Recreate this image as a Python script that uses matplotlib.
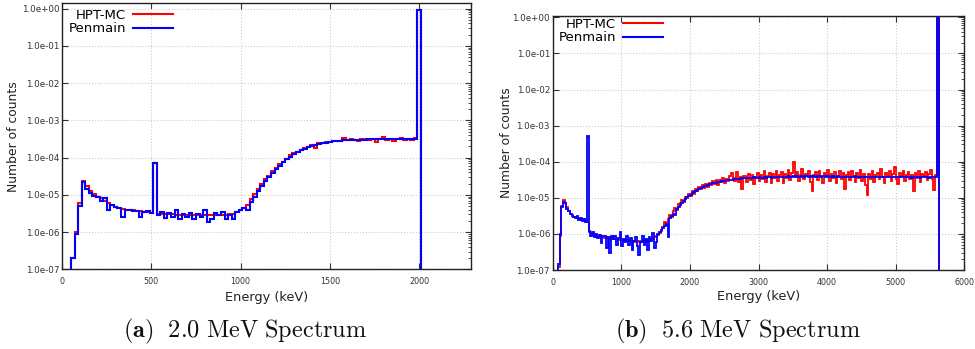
import numpy as np
import matplotlib
matplotlib.use("Agg")
import matplotlib.pyplot as plt
from matplotlib.ticker import FuncFormatter, LogLocator, NullFormatter, FixedLocator
from matplotlib.lines import Line2D

plt.rcParams["mathtext.fontset"] = "cm"

# Counts are stored in units of 1e-6 (normalised counts per bin)
COUNT_UNIT = 1e-6

# ---- 2.0 MeV spectrum: 20 keV bins starting at 50 keV
e0_20, de_20 = 50.0, 20.0
hpt_mc_20 = [
    0.20, 1.0, 6.0, 23, 17, 12.5, 10.5, 9.0, 8.0, 7.0,
    6.0, 5.3, 4.8, 4.4, 4.2, 4.0, 3.9, 3.8, 3.7, 3.6,
    3.5, 3.4, 3.3, 73, 3.1, 3.1, 3.0, 3.0, 3.0, 2.95,
    2.95, 2.9, 2.9, 2.9, 2.9, 2.9, 2.85, 2.9, 2.85, 2.85,
    2.9, 2.9, 2.9, 2.95, 3.0, 3.1, 3.4, 3.8, 4.4, 5.4,
    7.5, 10.5, 14, 19, 26, 32, 43, 52, 66, 78,
    92, 115, 130, 145, 160, 180, 195, 215, 185, 240,
    245, 260, 255, 275, 270, 285, 330, 290, 320, 300,
    270, 310, 315, 295, 320, 265, 310, 360, 300, 320,
    270, 310, 340, 290, 320, 300, 330, 900000,
]
penmain_20 = [
    0.20, 0.9, 5.0, 22, 14, 11, 9.5, 8.5, 7.0, 8.0,
    4.0, 5.2, 4.6, 4.4, 2.6, 4.0, 3.9, 3.7, 3.6, 2.6,
    3.4, 3.6, 3.2, 70, 2.8, 3.4, 2.4, 3.2, 2.6, 3.8,
    2.3, 3.0, 2.6, 3.3, 2.3, 3.0, 2.5, 3.8, 1.9, 2.2,
    3.2, 2.9, 3.4, 2.3, 2.8, 2.2, 3.4, 3.8, 4.5, 3.9,
    6.5, 9.0, 12.5, 17, 23, 30, 39, 49, 61, 74,
    89, 105, 122, 140, 158, 175, 190, 205, 218, 230,
    242, 252, 262, 270, 278, 284, 290, 295, 298, 300,
    302, 304, 305, 306, 307, 308, 309, 310, 310, 310,
    310, 310, 310, 310, 310, 310, 310, 900000,
]

# ---- 5.6 MeV spectrum: 25 keV bins starting at 75 keV
e0_56, de_56 = 75.0, 25.0
hpt_mc_56 = [
    # 75 - 475 keV
    0.12, 0.9, 6.0, 8.5, 7.2, 5.5, 4.3, 3.6, 3.3, 3.0, 2.9, 2.7, 2.8, 2.5, 2.6, 2.4, 2.3,
    # 500 keV
    2.1,
    # 525 - 1575 keV
    1.15, 1.05, 0.95, 1.0, 0.9, 0.85, 0.88, 0.8, 0.82, 0.78,
    0.8, 0.75, 0.72, 0.76, 0.7, 0.72, 0.68, 0.7, 0.66, 0.68,
    0.65, 0.67, 0.63, 0.66, 0.62, 0.65, 0.6, 0.63, 0.61, 0.64,
    0.6, 0.62, 0.65, 0.6, 0.66, 0.63, 0.7, 0.72, 0.8, 0.85,
    0.95, 1.05, 1.2,
    # 1600 - 2775 keV
    1.6, 2.1, 1.8, 2.6, 3.4, 2.9, 4.2, 5.1, 4.6, 6.6,
    7.0, 8.9, 7.6, 10.5, 9.8, 12.6, 11.0, 15.2, 13.0, 17.0,
    15.5, 20.5, 17.2, 22.0, 19.0, 24.5, 20.0, 26.0, 22.5, 28.5,
    24.0, 30.5, 23.0, 31.0, 27.5, 36.0, 26.0, 33.5, 29.0, 40.0,
    50.0, 34.5, 29.0, 52.0, 27.0, 38.0, 18.0, 40.0,
    # 2800 - 5575 keV
    40, 27, 46, 32, 42, 24, 37, 50, 29, 44,
    34, 54, 28, 41, 48, 25, 45, 36, 56, 30,
    43, 52, 26, 46, 35, 58, 31, 48, 96, 38,
    53, 29, 44, 64, 33, 47, 40, 56, 28, 15,
    42, 51, 31, 55, 38, 26, 49, 43, 58, 30,
    46, 35, 53, 25, 41, 55, 33, 48, 17, 44,
    51, 32, 56, 39, 27, 50, 36, 58, 29, 45,
    22, 12, 46, 34, 54, 28, 43, 50, 33, 62,
    38, 26, 49, 41, 56, 30, 45, 70, 34, 24,
    48, 40, 57, 29, 44, 53, 33, 42, 15, 50,
    36, 56, 28, 46, 41, 52, 31, 45, 60, 34,
    16, 42,
    # 5600 keV
    950000,
]
penmain_56 = [
    # 75 - 475 keV
    0.15, 1.0, 5.5, 7.8, 7.0, 5.0, 4.2, 3.5, 3.2, 3.0, 2.7, 3.1, 2.5, 2.7, 2.3, 2.6, 2.2,
    # 500 keV
    510,
    # 525 - 1575 keV
    1.2, 0.9, 1.1, 0.8, 1.0, 0.75, 0.95, 0.55, 0.9, 0.85,
    0.4, 0.8, 0.3, 0.85, 0.7, 0.9, 0.5, 0.75, 1.1, 0.45,
    0.7, 0.6, 0.9, 0.5, 0.75, 0.35, 0.65, 0.8, 0.45, 0.26,
    0.6, 0.9, 0.5, 0.7, 0.35, 0.8, 0.65, 1.05, 0.4, 0.6,
    1.0, 1.1, 1.3,
    # 1600 - 2775 keV
    1.5, 1.7, 1.9, 0.8, 2.7, 3.1, 3.6, 3.4, 5.0, 5.7,
    6.5, 7.4, 8.3, 9.3, 10.3, 11.3, 12.3, 13.4, 14.5, 15.6,
    16.7, 17.8, 18.8, 19.8, 20.8, 21.7, 22.6, 23.4, 24.2, 25.0,
    25.7, 26.4, 27.1, 27.8, 28.5, 29.1, 29.7, 30.3, 30.8, 31.3,
    31.8, 32.3, 32.8, 33.2, 33.6, 34.0, 34.4, 34.7,
    # 2800 - 5575 keV
    35.5, 36.2, 34.8, 36.0, 35.2, 36.8, 35.0, 36.5, 37.2, 35.8,
    36.4, 37.0, 35.6, 36.9, 37.5, 36.1, 38.0, 36.6, 37.3, 38.2,
    37.0, 38.5, 37.4, 38.8, 37.8, 39.0, 38.1, 37.5, 39.2, 38.4,
    39.5, 38.0, 38.9, 39.6, 38.3, 39.1, 40.0, 38.6, 39.4, 38.2,
    39.8, 38.7, 39.3, 40.2, 38.5, 39.0, 39.7, 38.4, 39.5, 38.8,
    38.2, 39.4, 37.9, 38.8, 39.6, 38.1, 38.7, 37.6, 38.9, 38.3,
    37.8, 38.6, 37.4, 38.2, 39.0, 37.7, 38.4, 37.2, 38.1, 38.8,
    37.5, 38.3, 37.1, 38.0, 38.7, 37.4, 38.2, 36.9, 37.8, 38.5,
    37.3, 38.1, 36.8, 37.7, 38.4, 37.2, 37.9, 36.7, 37.6, 38.3,
    37.0, 37.8, 36.6, 37.5, 38.2, 37.1, 37.7, 36.5, 37.4, 38.0,
    36.9, 37.6, 36.4, 37.3, 38.1, 36.8, 37.5, 36.3, 37.2, 37.9,
    36.7, 37.4,
    # 5600 keV
    950000,
]

series_names = ["HPT-MC", "Penmain"]
series_colors = ["#ff0000", "#0000ff"]
xticks_20 = [0, 500, 1000, 1500, 2000]
xticks_56 = [0, 1000, 2000, 3000, 4000, 5000, 6000]
yticks = [1e-7, 1e-6, 1e-5, 1e-4, 1e-3, 1e-2, 1e-1, 1e0]
captions = [r"$\mathbf{(a)}\ \ \mathrm{2.0\ MeV\ Spectrum}$",
            r"$\mathbf{(b)}\ \ \mathrm{5.6\ MeV\ Spectrum}$"]

W, H = 975, 349
fig = plt.figure(figsize=(W / 100, H / 100), dpi=100)


def px_axes(left, top, right, bottom):
    return fig.add_axes([left / W, 1 - bottom / H, (right - left) / W, (bottom - top) / H])


def draw_panel(ax, e0, de, red, blue, xlim, ylim, xticks, legend_right, legend_top, lw):
    red = np.asarray(red, float) * COUNT_UNIT
    blue = np.asarray(blue, float) * COUNT_UNIT
    edges_r = e0 + de * np.arange(len(red) + 1)
    edges_b = e0 + de * np.arange(len(blue) + 1)
    ax.stairs(red, edges_r, baseline=1e-12, color=series_colors[0], lw=lw)
    ax.stairs(blue, edges_b, baseline=1e-12, color=series_colors[1], lw=lw)

    ax.set_yscale("log")
    ax.set_xlim(*xlim)
    ax.set_ylim(*ylim)
    ax.xaxis.set_major_locator(FixedLocator(xticks))
    ax.yaxis.set_major_locator(FixedLocator(yticks))
    ax.yaxis.set_minor_locator(LogLocator(base=10, subs=np.arange(2, 10)))
    ax.yaxis.set_minor_formatter(NullFormatter())
    ax.yaxis.set_major_formatter(FuncFormatter(lambda v, p: f"{v:.1e}"))
    ax.xaxis.set_major_formatter(FuncFormatter(lambda v, p: f"{int(v)}"))

    ax.tick_params(axis="both", which="major", direction="in", length=4, width=0.8,
                   top=True, right=True, colors="#333333")
    ax.tick_params(axis="y", which="major", labelsize=6.3, pad=2)
    ax.tick_params(axis="x", which="major", labelsize=5.8, pad=5.5)
    ax.tick_params(axis="y", which="minor", direction="in", length=2, width=0.6,
                   left=False, right=True, colors="#333333")
    for sp in ax.spines.values():
        sp.set_color("#222222")
        sp.set_linewidth(1.0)
    ax.grid(True, which="major", linestyle=":", color="#cccccc", linewidth=0.8)
    ax.set_axisbelow(True)

    ax.set_xlabel("Energy (keV)", fontsize=9.3, color="#222222", va="center")
    ax.set_ylabel("Number of counts", fontsize=8.9, color="#222222", va="center")

    handles = [Line2D([], [], color=c, lw=1.5) for c in series_colors]
    ax.legend(handles, series_names, loc="upper right", markerfirst=False, frameon=False,
              fontsize=9.5, handlelength=3.0, handletextpad=0.55, labelspacing=0.05,
              borderpad=0, borderaxespad=0,
              bbox_to_anchor=(legend_right / W, 1 - legend_top / H),
              bbox_transform=fig.transFigure)


# left panel (2.0 MeV)
ax1 = px_axes(62, 3, 471, 269.3)
draw_panel(ax1, e0_20, de_20, hpt_mc_20, penmain_20, (0, 2290), (1e-7, 1.41),
           xticks_20, 172.7, 8.8, 1.5)
ax1.xaxis.set_label_coords(0.5, -(297 - 269.3) / 266.3)
ax1.yaxis.set_label_coords(-(62 - 13.5) / 409, 0.5)

# right panel (5.6 MeV)
ax2 = px_axes(552.7, 15.7, 964.3, 270)
draw_panel(ax2, e0_56, de_56, hpt_mc_56, penmain_56, (0, 6000), (1e-7, 1.11),
           xticks_56, 662.7, 17.7, 1.3)
ax2.xaxis.set_label_coords(0.5, -(296.7 - 270) / 254.3)
ax2.yaxis.set_label_coords(-(552.7 - 506) / 411.6, 0.5)

# sub-figure captions
fig.text(245 / W, 1 - 331 / H, captions[0], fontsize=17.5, ha="center", va="center",
         color="#111111")
fig.text(737.5 / W, 1 - 331 / H, captions[1], fontsize=17.5, ha="center", va="center",
         color="#111111")

fig.savefig("out.png", dpi=100)
